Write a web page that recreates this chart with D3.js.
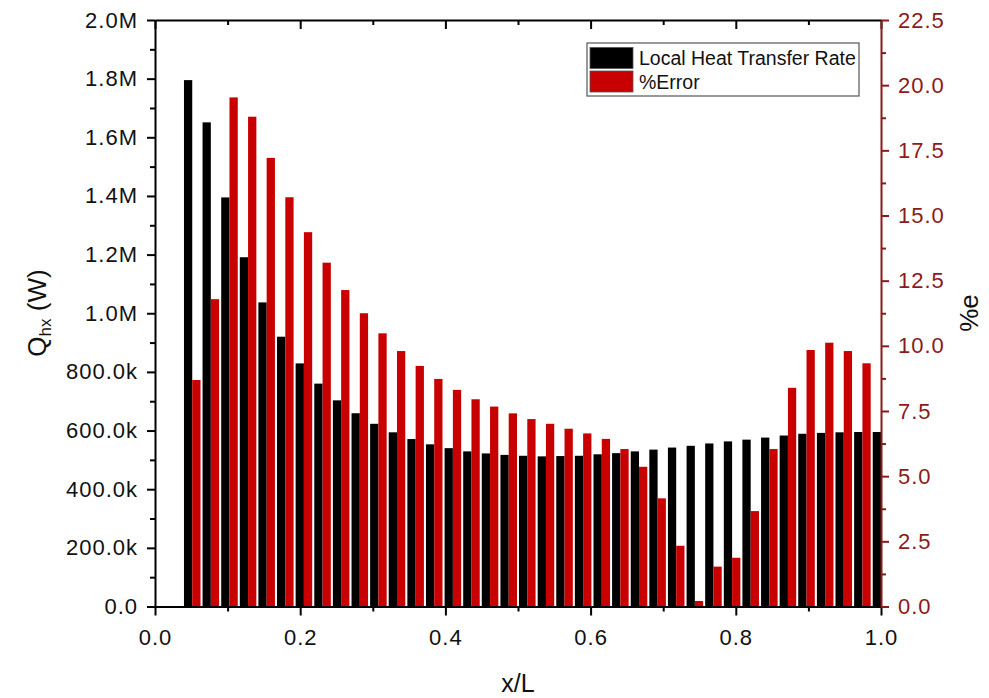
<!DOCTYPE html>
<html>
<head>
<meta charset="utf-8">
<script src="https://cdn.jsdelivr.net/npm/d3@7"></script>
<style>
  html, body { margin: 0; padding: 0; background: #fff; }
  svg { display: block; font-family: "Liberation Sans", Arial, sans-serif; }
</style>
</head>
<body>
<svg id="chart" width="989" height="698"></svg>
<script>
// Axial positions x/L of each segment
const xL = [0.0513, 0.0769, 0.1026, 0.1282, 0.1538, 0.1795, 0.2051, 0.2308, 0.2564, 0.2821,
            0.3077, 0.3333, 0.3590, 0.3846, 0.4103, 0.4359, 0.4615, 0.4872, 0.5128, 0.5385,
            0.5641, 0.5897, 0.6154, 0.6410, 0.6667, 0.6923, 0.7179, 0.7436, 0.7692, 0.7949,
            0.8205, 0.8462, 0.8718, 0.8974, 0.9231, 0.9487, 0.9744, 1.0000];

// Local heat transfer rate Q_hx (W)
const heatRate = [1795000, 1651000, 1395000, 1191000, 1037000, 920000, 829000, 760000, 703000, 659000,
                  623000, 594000, 571000, 553000, 540000, 529000, 522000, 517000, 514000, 512000,
                  513000, 514000, 519000, 523000, 529000, 535000, 542000, 548000, 556000, 563000,
                  569000, 576000, 583000, 589000, 592000, 594000, 595000, 595000];

// Percentage error %e
const errorPct = [8.69, 11.79, 19.53, 18.79, 17.21, 15.70, 14.36, 13.19, 12.14, 11.25,
                  10.48, 9.80, 9.23, 8.73, 8.31, 7.95, 7.67, 7.41, 7.19, 7.01,
                  6.82, 6.64, 6.43, 6.04, 5.36, 4.15, 2.33, 0.21, 1.53, 1.87,
                  3.66, 6.04, 8.39, 9.84, 10.12, 9.80, 9.33];

// Tick values
const xTicks = [0, 0.2, 0.4, 0.6, 0.8, 1.0];
const leftTicks = [0, 200000, 400000, 600000, 800000, 1000000, 1200000, 1400000, 1600000, 1800000, 2000000];
const leftTickLabels = ["0.0", "200.0k", "400.0k", "600.0k", "800.0k", "1.0M", "1.2M", "1.4M", "1.6M", "1.8M", "2.0M"];
const rightTicks = [0, 2.5, 5, 7.5, 10, 12.5, 15, 17.5, 20, 22.5];

const seriesNames = ["Local Heat Transfer Rate", "%Error"];

const black = "#000000";
const red = "#c80000";
const axisRed = "#8b1a1a";

const svg = d3.select("#chart");
const plotL = 155, plotR = 881, plotT = 20, plotB = 606.5;

const x = d3.scaleLinear().domain([0, 1]).range([plotL, plotR]);
const yL = d3.scaleLinear().domain([0, 2000000]).range([plotB, plotT]);
const yR = d3.scaleLinear().domain([0, 22.5]).range([plotB, plotT]);
const barW = 0.0114;

svg.append("defs").append("clipPath").attr("id", "plot")
  .append("rect").attr("x", plotL).attr("y", plotT).attr("width", plotR - plotL).attr("height", plotB - plotT);

const bars = svg.append("g").attr("clip-path", "url(#plot)");

bars.selectAll("rect.q").data(heatRate).join("rect")
  .attr("class", "q")
  .attr("x", (d, i) => x(xL[i] - barW))
  .attr("width", (d, i) => x(xL[i]) - x(xL[i] - barW))
  .attr("y", d => yL(d))
  .attr("height", d => yL(0) - yL(d))
  .attr("fill", black);

bars.selectAll("rect.e").data(errorPct).join("rect")
  .attr("class", "e")
  .attr("x", (d, i) => x(xL[i]))
  .attr("width", (d, i) => x(xL[i] + barW) - x(xL[i]))
  .attr("y", d => yR(d))
  .attr("height", d => yR(0) - yR(d))
  .attr("fill", red);

const fontSize = 22;
const minor = (ticks) => ticks.slice(0, -1).map((t, i) => (t + ticks[i + 1]) / 2);

// Bottom axis
svg.append("g").attr("transform", `translate(0,${plotB})`)
  .call(d3.axisBottom(x).tickValues(xTicks).tickFormat(d3.format(".1f")).tickSizeInner(9).tickSizeOuter(0).tickPadding(14));
svg.append("g").attr("transform", `translate(0,${plotB})`)
  .call(d3.axisBottom(x).tickValues(minor(xTicks)).tickFormat("").tickSizeInner(5).tickSizeOuter(0))
  .select(".domain").remove();

// Top axis (ticks inward)
svg.append("g").attr("transform", `translate(0,${plotT})`)
  .call(d3.axisBottom(x).tickValues(xTicks).tickFormat("").tickSizeInner(9).tickSizeOuter(0));
svg.append("g").attr("transform", `translate(0,${plotT})`)
  .call(d3.axisBottom(x).tickValues(minor(xTicks)).tickFormat("").tickSizeInner(5).tickSizeOuter(0))
  .select(".domain").remove();

// Left axis
svg.append("g").attr("transform", `translate(${plotL},0)`)
  .call(d3.axisLeft(yL).tickValues(leftTicks).tickFormat((d, i) => leftTickLabels[i]).tickSizeInner(8).tickSizeOuter(0).tickPadding(9));
svg.append("g").attr("transform", `translate(${plotL},0)`)
  .call(d3.axisLeft(yL).tickValues(minor(leftTicks)).tickFormat("").tickSizeInner(5).tickSizeOuter(0))
  .select(".domain").remove();

// Right axis
const gR = svg.append("g").attr("transform", `translate(${plotR},0)`)
  .call(d3.axisRight(yR).tickValues(rightTicks).tickFormat(d3.format(".1f")).tickSizeInner(8).tickSizeOuter(0).tickPadding(9));
const gRm = svg.append("g").attr("transform", `translate(${plotR},0)`)
  .call(d3.axisRight(yR).tickValues(minor(rightTicks)).tickFormat("").tickSizeInner(5).tickSizeOuter(0));
gRm.select(".domain").remove();

svg.selectAll(".domain, .tick line").attr("stroke", black).attr("stroke-width", 2);
gR.selectAll(".domain, .tick line").attr("stroke", axisRed);
gRm.selectAll(".tick line").attr("stroke", axisRed);
svg.selectAll(".tick text").attr("font-size", fontSize).attr("font-family", "Liberation Sans, Arial, sans-serif")
  .attr("fill", "#111").style("letter-spacing", "1px");
gR.selectAll(".tick text").attr("fill", axisRed);

// Axis titles
svg.append("text")
  .attr("transform", `translate(46,313) rotate(-90)`)
  .attr("text-anchor", "middle").attr("font-size", 26).attr("fill", "#111")
  .call(t => {
    t.append("tspan").text("Q");
    t.append("tspan").attr("font-size", 17).attr("dy", 5).text("hx");
    t.append("tspan").attr("dy", -5).text(" (W)");
  });

svg.append("text")
  .attr("x", x(0.5)).attr("y", 692)
  .attr("text-anchor", "middle").attr("font-size", 25).attr("fill", "#111")
  .text("x/L");

svg.append("text")
  .attr("transform", `translate(978,313) rotate(-90)`)
  .attr("text-anchor", "middle").attr("font-size", 26).attr("fill", "#111")
  .text("%e");

// Legend
const lg = svg.append("g").attr("transform", "translate(587,43)");
lg.append("rect").attr("width", 272).attr("height", 53)
  .attr("fill", "#fff").attr("stroke", "#555").attr("stroke-width", 1.2);
[black, red].forEach((c, i) => {
  lg.append("rect").attr("x", 3).attr("y", 4.5 + i * 23.5).attr("width", 43).attr("height", 21)
    .attr("fill", c).attr("stroke", "#555").attr("stroke-width", 0.8);
  lg.append("text").attr("x", 52).attr("y", 22 + i * 23.5)
    .attr("font-size", 19.5).attr("fill", "#111").text(seriesNames[i]);
});
</script>
</body>
</html>
